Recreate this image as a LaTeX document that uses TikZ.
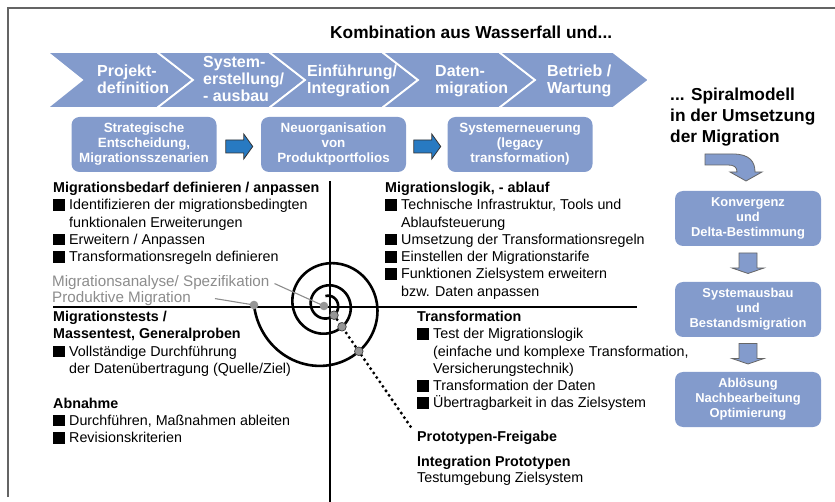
\documentclass[tikz,border=0pt]{standalone}
\usepackage{fontspec}
\setmainfont{Liberation Sans}
\usetikzlibrary{calc}
\definecolor{cblue}{RGB}{131,155,204}
\definecolor{dblue}{RGB}{40,122,194}
\definecolor{framecol}{RGB}{100,100,100}
\definecolor{gtext}{RGB}{140,140,140}
\definecolor{gdot}{RGB}{150,150,150}
\newcommand\sqb{\rule[-1pt]{11.5pt}{11.5pt}\hspace{4.5pt}}
\newcommand\ind{\hspace*{16pt}}
\newcommand\blk[1]{\begin{tabular}[t]{@{}l@{}}#1\end{tabular}}
\tikzset{
  chevtxt/.style={text=white, font=\bfseries\fontsize{16}{17}\selectfont, anchor=base west, inner sep=0pt},
  rbox/.style={fill=cblue, rounded corners=8pt, text=white, align=center, inner sep=2pt,
     font=\bfseries\fontsize{13.4}{15}\selectfont, minimum width=145pt, minimum height=55pt},
  rboxr/.style={rbox, font=\bfseries\fontsize{12.9}{15}\selectfont, minimum width=146pt},
  txt/.style={anchor=base west, inner sep=0pt, font=\fontsize{14.3}{17.3}\selectfont},
  gtxt/.style={anchor=base west, inner sep=0pt, text=gtext, font=\fontsize{15.2}{16}\selectfont},
  axisline/.style={line width=2.8pt},
  ptr/.style={gtext, line width=1.1pt},
  gdotst/.style={fill=gdot, draw=none},
  gdotline/.style={fill=gdot, draw=black!75, line width=0.7pt},
  rarr/.pic={\filldraw[fill=dblue, draw=black!80, line width=0.8pt]
     (-13,-4.5) -- (5,-4.5) -- (5,-10.5) -- (14,2) -- (5,14.5) -- (5,8.5) -- (-13,8.5) -- cycle;},
  darr/.pic={\filldraw[fill=cblue, draw=black!60, line width=0.8pt]
     (-9,-11) -- (9,-11) -- (9,4) -- (16,4) -- (0,9.5) -- (-16,4) -- (-9,4) -- cycle;}
}
\begin{document}
\begin{tikzpicture}[x=1pt,y=-1pt]
\useasboundingbox (0,0) rectangle (835,502);
% frame
\draw[framecol, line width=2pt] (8,497) -- (8,8) -- (835,8);
% title
\node[anchor=base west, inner sep=0pt, font=\bfseries\fontsize{17.3}{21}\selectfont] (title) at (330,38.5) {Kombination aus Wasserfall und...};
% chevrons
\foreach \l/\n/\r/\t in {47/82/157/193, 157/193/269/305, 269/305/382/418, 382/418/499/535, 499/535/613/649}
  \filldraw[fill=cblue, draw=white, line width=1.8pt] (\l,52) -- (\r,52) -- (\t,80) -- (\r,108) -- (\l,108) -- (\n,80) -- cycle;
\node[chevtxt] (c1) at (97,77) {\blk{Projekt-\\definition}};
\node[chevtxt] (c2) at (203,67.3) {\blk{System-\\erstellung/\\- ausbau}};
\node[chevtxt] (c3) at (307,77) {\blk{Einführung/\\Integration}};
\node[chevtxt] (c4) at (435,77) {\blk{Daten-\\migration}};
\node[chevtxt] (c5) at (547,77) {\blk{Betrieb /\\Wartung}};
% row boxes
\node[rbox] (s1) at (144,144.5) {Strategische\\Entscheidung,\\Migrationsszenarien};
\node[rbox] (s2) at (333.5,144.5) {Neuorganisation\\von\\Produktportfolios};
\node[rbox] (s3) at (520,144.5) {Systemerneuerung\\(legacy\\transformation)};
\pic at ($(s1.east)!0.5!(s2.west)$) {rarr};
\pic at ($(s2.east)!0.5!(s3.west)$) {rarr};
% right header
\node[anchor=base west, inner sep=0pt, font=\bfseries\fontsize{17.3}{21}\selectfont] (sp) at (670,101) {\blk{... Spiralmodell\\in der Umsetzung\\der Migration}};
% right boxes
\node[rboxr] (k1) at (748,218.5) {Konvergenz\\und\\Delta-Bestimmung};
\node[rboxr] (k2) at (748,309.5) {Systemausbau\\und\\Bestandsmigration};
\node[rboxr] (k3) at (748,399.5) {Ablösung\\Nachbearbeitung\\Optimierung};
\filldraw[fill=cblue, draw=black!60, line width=0.8pt] (705,154) -- (733,154) .. controls (750,154) and (755,162) .. (755,172) -- (762,172) -- (746,181) -- (730,172) -- (737,172) .. controls (737,167) and (734,165) .. (728,165) -- (705,165) -- cycle;
\pic at ($(k1.south)!0.5!(k2.north)$) {darr};
\pic at ($(k2.south)!0.5!(k3.north)$) {darr};
% axes
\coordinate (vtop) at (330,181);
\coordinate (vbot) at (330,502);
\coordinate (hl) at (53,307);
\coordinate (hr) at (637,307);
\draw[axisline] (vtop) -- (vbot);
\draw[axisline] (hl) -- (hr);
% quadrant texts
\node[txt] (q1) at (53,192.5) {\blk{\textbf{Migrationsbedarf definieren / anpassen}\\ \sqb Identifizieren der migrationsbedingten\\ \ind funktionalen Erweiterungen\\ \sqb Erweitern / Anpassen\\ \sqb Transformationsregeln definieren}};
\node[txt] (q2) at (385,192.5) {\blk{\textbf{Migrationslogik, - ablauf}\\ \sqb Technische Infrastruktur, Tools und\\ \ind Ablaufsteuerung\\ \sqb Umsetzung der Transformationsregeln\\ \sqb Einstellen der Migrationstarife\\ \sqb Funktionen Zielsystem erweitern\\ \ind bzw. Daten anpassen}};
\node[txt] (q3) at (53,321.7) {\blk{\textbf{Migrationstests /}\\ \textbf{Massentest, Generalproben}\\ \sqb Vollständige Durchführung\\ \ind der Datenübertragung (Quelle/Ziel)\\ \\ \textbf{Abnahme}\\ \sqb Durchführen, Maßnahmen ableiten\\ \sqb Revisionskriterien}};
\node[txt] (q4) at (417,321.5) {\blk{\textbf{Transformation}\\ \sqb Test der Migrationslogik\\ \ind (einfache und komplexe Transformation,\\ \ind Versicherungstechnik)\\ \sqb Transformation der Daten\\ \sqb Übertragbarkeit in das Zielsystem}};
\node[txt, font=\bfseries\fontsize{14.3}{17.3}\selectfont] (pf) at (417,441.5) {Prototypen-Freigabe};
\node[txt, font=\bfseries\fontsize{14.3}{17.3}\selectfont] (ip) at (417,466.5) {Integration Prototypen};
\node[txt] (tz) at (417,482.5) {Testumgebung Zielsystem};
% gray labels
\node[gtxt] (g1) at (52,286.5) {Migrationsanalyse/ Spezifikation};
\node[gtxt] (g2) at (52,302.5) {Produktive Migration};
% spiral
\coordinate (d0) at (254,305);
\coordinate (dc) at (324,306);
\coordinate (d1) at (358.8,351.3);
\coordinate (d2) at (342.0,326.8);
\coordinate (d3) at (334.0,315.2);
\coordinate (dend) at (411.5,428);
\draw[line width=3.3pt, dash pattern=on 0pt off 5.4pt, line cap=round] (d3) -- (dend);
\draw[line width=2.6pt] plot[domain=0:1000, samples=260, smooth, variable=\t]
  ({327+73*exp(-0.0020972*\t)*cos(180-\t)}, {305+73*exp(-0.0020972*\t)*sin(180-\t)});
\draw[ptr] ($(g1.east)+(5,1)$) -- (dc);
\draw[ptr] ($(g2.east)+(24,0)$) -- (d0);
\fill[gdotst] (d0) circle (4.3);
\fill[gdotst] (dc) circle (4.3);
\filldraw[gdotline] (d1) circle (4.3);
\filldraw[gdotline] (d2) circle (4.3);
\filldraw[gdotline] (d3) circle (4.3);
\end{tikzpicture}
\end{document}
